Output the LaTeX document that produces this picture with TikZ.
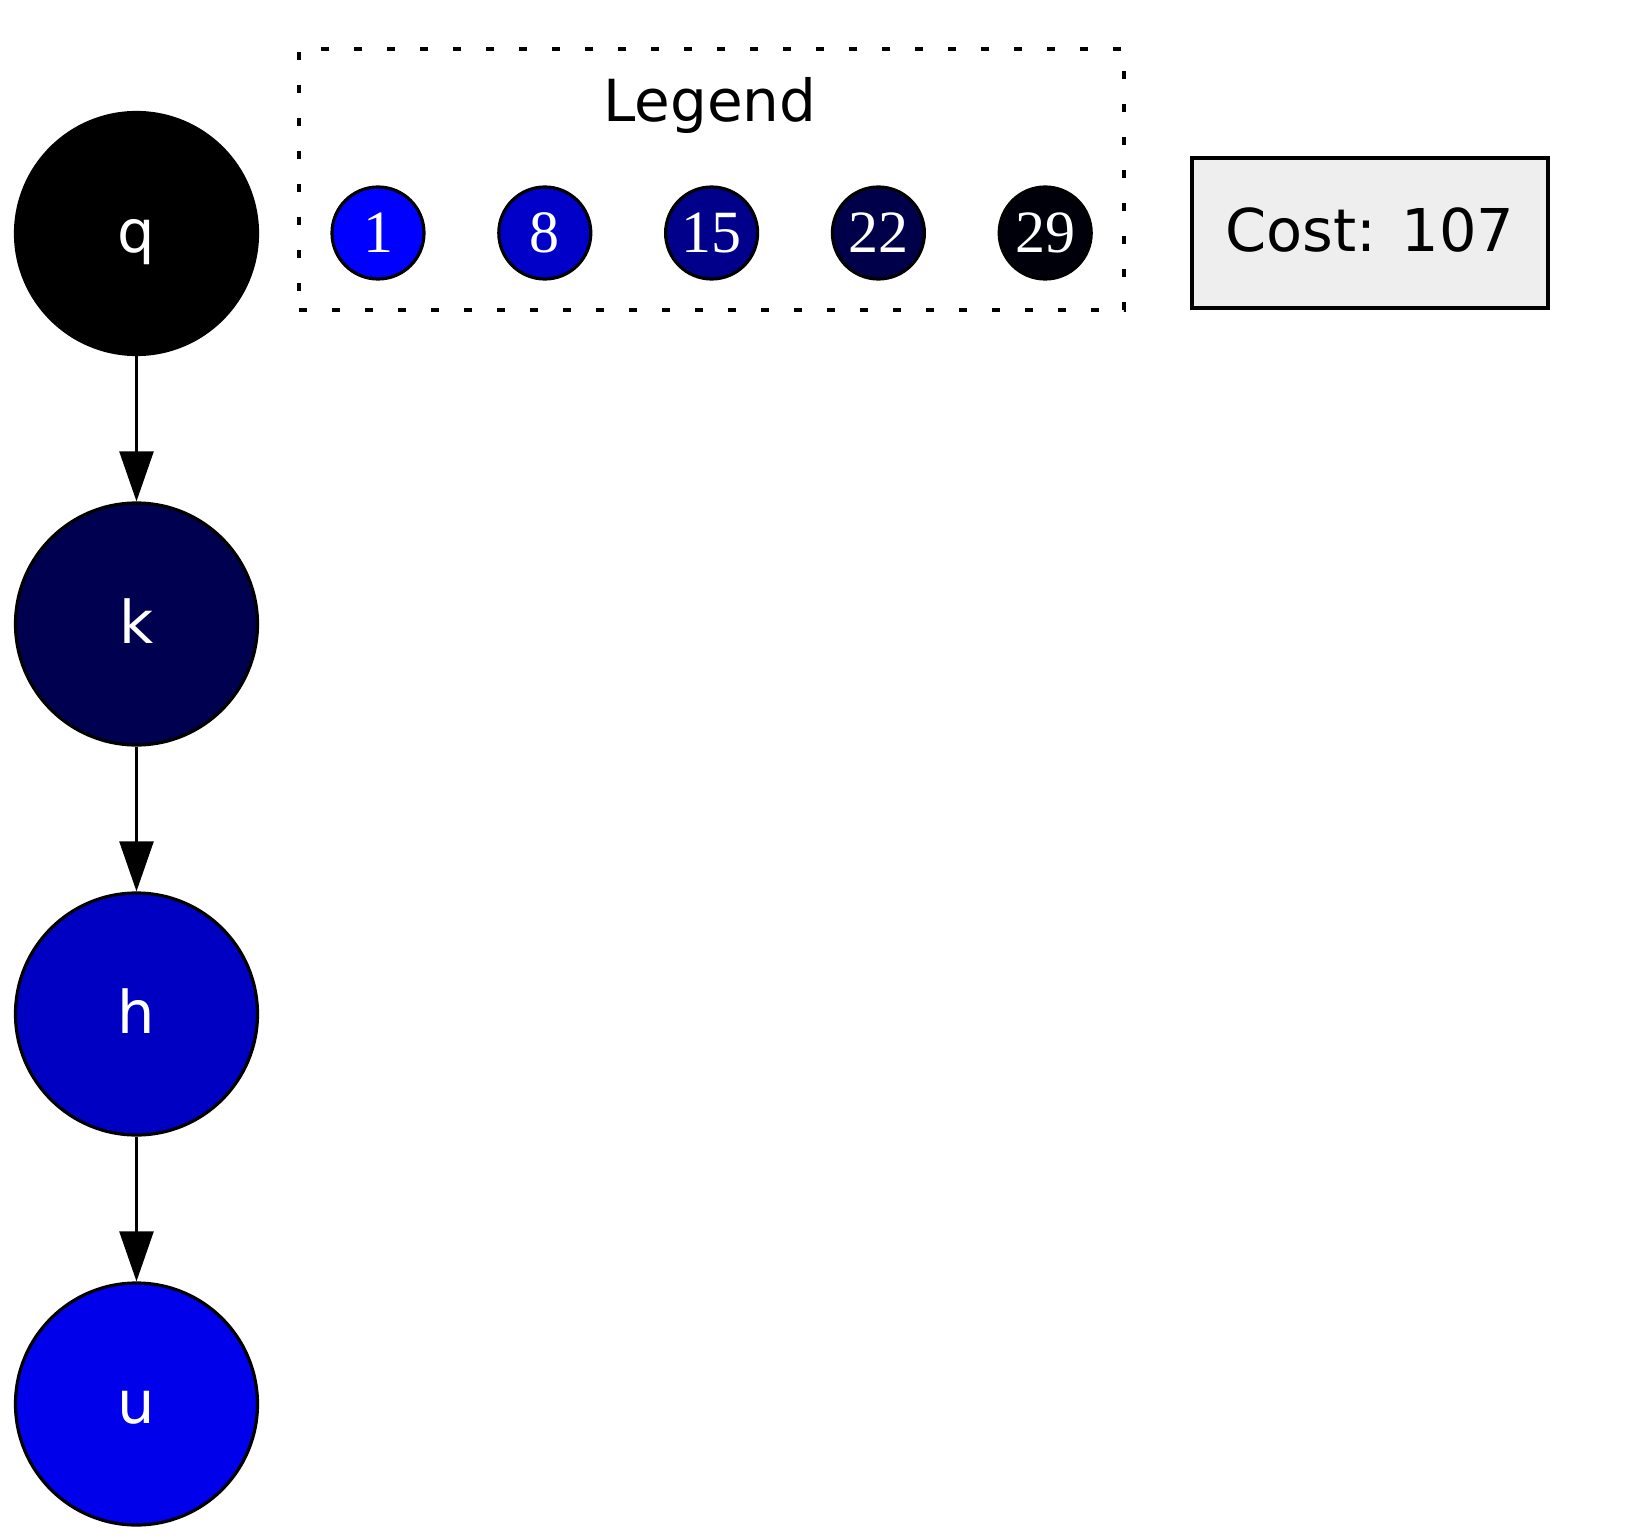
\documentclass[tikz,border=0pt]{standalone}
\usepackage{fontspec}
\setmainfont{DejaVu Sans}
\newfontfamily\numfont{Liberation Serif}
\usepackage{xcolor}
\usetikzlibrary{arrows.meta, positioning}

\definecolor{lvA}{HTML}{0000FF}
\definecolor{lvB}{HTML}{0000C8}
\definecolor{lvC}{HTML}{00008A}
\definecolor{lvD}{HTML}{00004A}
\definecolor{lvE}{HTML}{00000A}
\definecolor{nodeU}{HTML}{0000EA}
\definecolor{nodeH}{HTML}{0000C2}
\definecolor{nodeK}{HTML}{000050}
\definecolor{costbg}{HTML}{EEEEEE}

\begin{document}
\begin{tikzpicture}[x=0.5pt, y=-0.5pt, >={Triangle[length=25pt, width=17pt]},
        vertex/.style={circle, draw, line width=1.6pt, minimum size=121pt, inner sep=0pt, text=white, text height=20pt, text depth=0.5pt, font=\fontsize{29.5}{31}\selectfont},
        level/.style={circle, draw, line width=1.6pt, minimum size=46pt, inner sep=0pt, text=white, font=\numfont\fontsize{30}{31}\selectfont},
        legendbox/.style={rectangle, draw, line width=1.6pt, dash pattern=on 4pt off 12.5pt, minimum width=412.5pt, minimum height=130.5pt},
        costbox/.style={rectangle, draw, line width=1.6pt, fill=costbg, minimum width=178pt, minimum height=75pt, text height=19.5pt, text depth=0.8pt, font=\fontsize{29.5}{31}\selectfont},
        edge/.style={->, line width=1.2pt}]
        \useasboundingbox (0,0) rectangle (1633,1540);

        % path
        \node (q) [vertex, fill=black] at (136.5,233.5) {q};
        \node (k) [vertex, fill=nodeK] at (136.5,624) {k};
        \node (h) [vertex, fill=nodeH] at (136.5,1014) {h};
        \node (u) [vertex, fill=nodeU] at (136.5,1404) {u};

        \draw[edge] (q) -- (k);
        \draw[edge] (k) -- (h);
        \draw[edge] (h) -- (u);

        % legend
        \node (legend) [legendbox] at (711.5,179.5) {};
        \node (title) [anchor=base, inner sep=0pt, font=\fontsize{29}{31}\selectfont] at (710,122) {Legend};
        \node (l1) [level, fill=lvA] at (378,233) {1};
        \node (l8) [level, fill=lvB, right=35.8pt of l1] {8};
        \node (l15) [level, fill=lvC, right=35.8pt of l8] {15};
        \node (l22) [level, fill=lvD, right=35.8pt of l15] {22};
        \node (l29) [level, fill=lvE, right=35.8pt of l22] {29};

        \node (cost) [costbox] at (1370,233) {Cost: 107};
    \end{tikzpicture}
\end{document}
